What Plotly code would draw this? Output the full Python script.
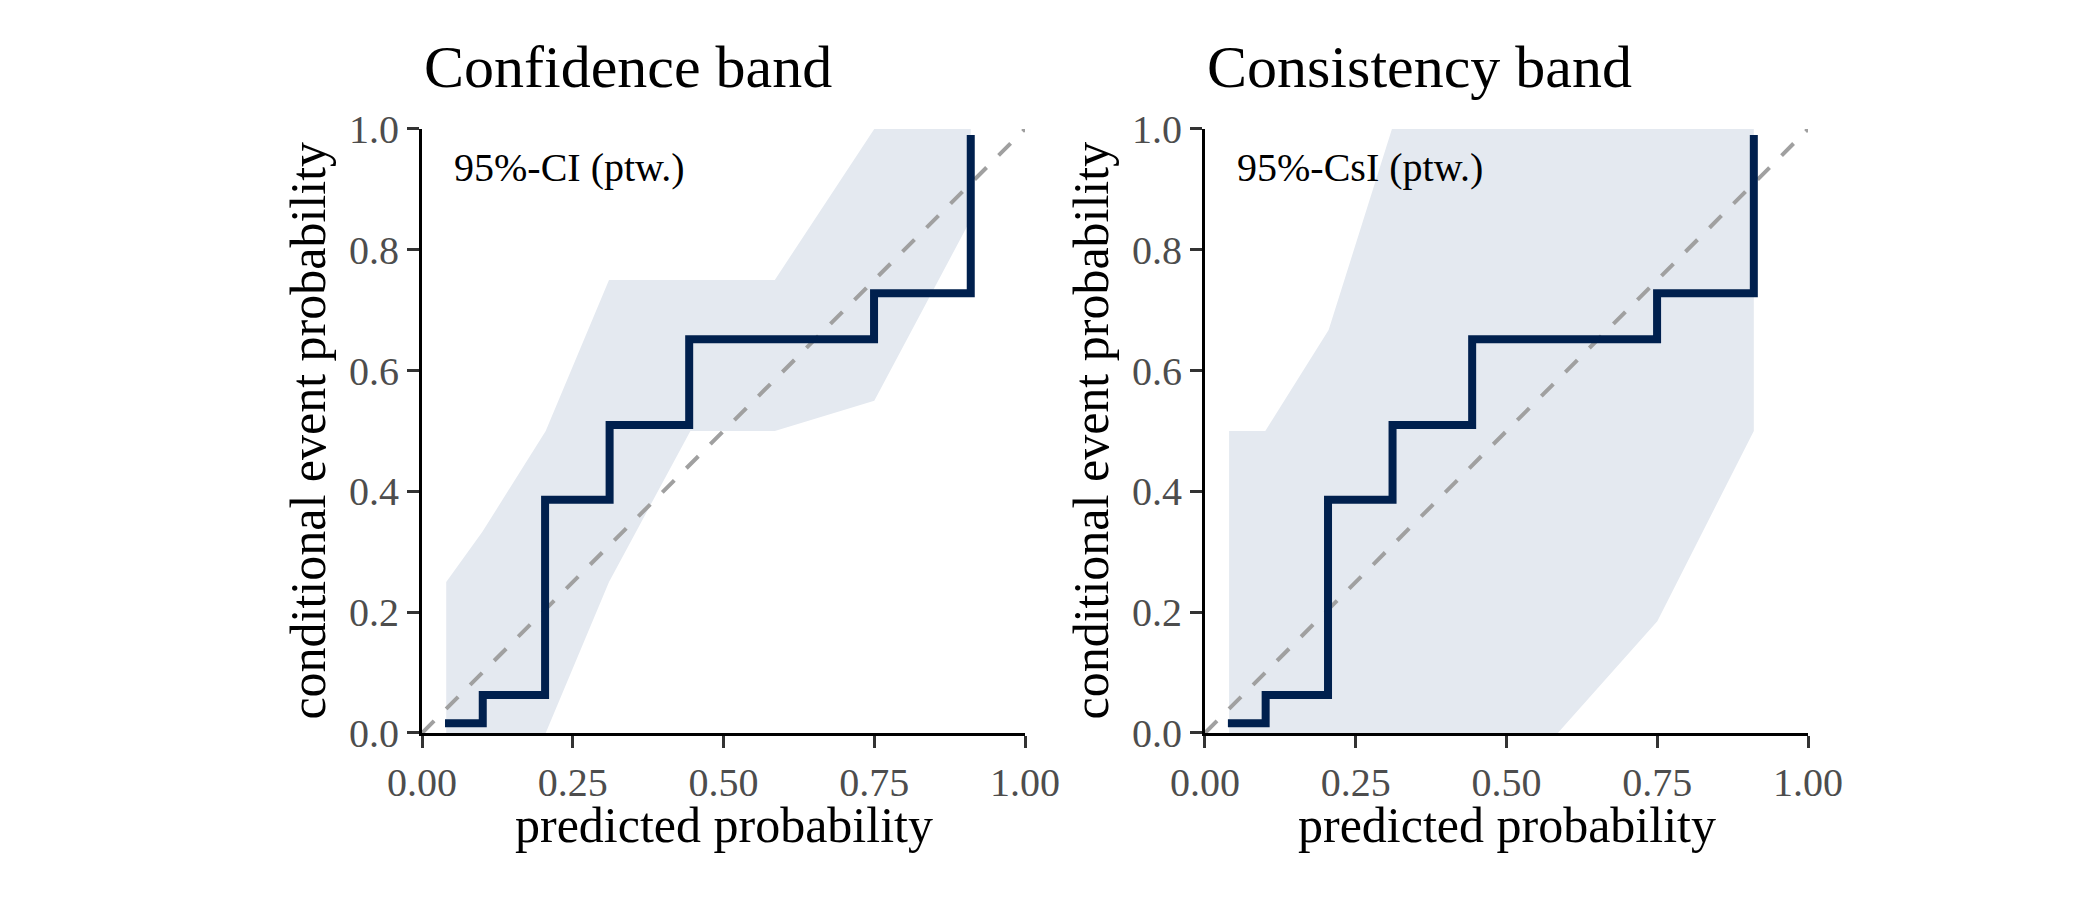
import plotly.graph_objects as go

# shared data
band_x = [0.04, 0.10, 0.205, 0.31, 0.445, 0.585, 0.75, 0.91]
ci_upper = [0.25, 0.333, 0.5, 0.75, 0.75, 0.75, 1.0, 1.0]
ci_lower = [0.0, 0.0, 0.0, 0.25, 0.5, 0.5, 0.55, 0.85]
csi_upper = [0.5, 0.5, 0.667, 1.0, 1.0, 1.0, 1.0, 1.0]
csi_lower = [0.0, 0.0, 0.0, 0.0, 0.0, 0.0, 0.185, 0.5]

step_x = [0.038, 0.1006, 0.204, 0.311, 0.443, 0.7496, 0.91]
step_y = [0.016, 0.063, 0.386, 0.51, 0.652, 0.728, 0.99]

diag = [0, 1]

panels = [
    ("Confidence band", "95%-CI (ptw.)", ci_upper, ci_lower),
    ("Consistency band", "95%-CsI (ptw.)", csi_upper, csi_lower),
]

xdomains = [[0.2010, 0.4881], [0.5738, 0.8610]]
ydomain = [0.1856, 0.8567]

FONT = "Liberation Serif"
band_col = "#E4E9F0"
line_col = "#00204E"
diag_col = "#A0A0A0"

fig = go.Figure()
annotations = []

for i, (title, label, upper, lower) in enumerate(panels):
    xa = "x" if i == 0 else "x2"
    ya = "y" if i == 0 else "y2"
    # ribbon
    fig.add_trace(go.Scatter(
        x=band_x + band_x[::-1],
        y=upper + lower[::-1],
        fill="toself",
        fillcolor=band_col,
        line=dict(width=0),
        mode="lines",
        hoverinfo="skip",
        xaxis=xa, yaxis=ya,
    ))
    # diagonal
    fig.add_trace(go.Scatter(
        x=diag, y=diag,
        mode="lines",
        line=dict(color=diag_col, width=4, dash="17px,17px"),
        xaxis=xa, yaxis=ya,
    ))
    # reliability step curve
    fig.add_trace(go.Scatter(
        x=step_x, y=step_y,
        mode="lines",
        line=dict(color=line_col, width=8, shape="hv"),
        xaxis=xa, yaxis=ya,
    ))

    x0, x1 = xdomains[i]
    annotations.append(dict(
        text=title, xref="paper", yref="paper",
        x=x0, y=0.9256, xanchor="left", yanchor="middle",
        showarrow=False, font=dict(family=FONT, size=60, color="black"),
    ))
    annotations.append(dict(
        text="predicted probability", xref="paper", yref="paper",
        x=(x0 + x1) / 2, y=0.0836, xanchor="center", yanchor="middle",
        showarrow=False, font=dict(family=FONT, size=50, color="black"),
    ))
    annotations.append(dict(
        text="conditional event probability", xref="paper", yref="paper",
        x=x0 - 0.0545, y=(ydomain[0] + ydomain[1]) / 2,
        xanchor="center", yanchor="middle", textangle=-90,
        showarrow=False, font=dict(family=FONT, size=50, color="black"),
    ))
    annotations.append(dict(
        text=label, xref=xa, yref=ya,
        x=0.049, y=0.937, xanchor="left", yanchor="middle",
        showarrow=False, font=dict(family=FONT, size=40, color="black"),
    ))

axis_common = dict(
    range=[0, 1],
    automargin=False,
    showgrid=False,
    zeroline=False,
    showline=True,
    linecolor="black",
    linewidth=3,
    ticks="outside",
    ticklen=12,
    tickwidth=3,
    tickcolor="#333333",
    tickfont=dict(family=FONT, size=40, color="#4D4D4D"),
    fixedrange=True,
)

xt = [0, 0.25, 0.5, 0.75, 1.0]
yt = [0, 0.2, 0.4, 0.6, 0.8, 1.0]

fig.update_layout(
    template="none",
    autosize=False,
    width=2100,
    height=900,
    margin=dict(l=0, r=0, t=0, b=0, pad=0, autoexpand=False),
    plot_bgcolor="white",
    paper_bgcolor="white",
    showlegend=False,
    annotations=annotations,
    xaxis=dict(axis_common, domain=xdomains[0], tickvals=xt, tickformat=".2f", anchor="y"),
    yaxis=dict(axis_common, domain=ydomain, tickvals=yt, tickformat=".1f", anchor="x"),
    xaxis2=dict(axis_common, domain=xdomains[1], tickvals=xt, tickformat=".2f", anchor="y2"),
    yaxis2=dict(axis_common, domain=ydomain, tickvals=yt, tickformat=".1f", anchor="x2"),
)

fig.write_html("out.html", config={"displayModeBar": False},
               post_script="document.body.style.margin='0px';")
